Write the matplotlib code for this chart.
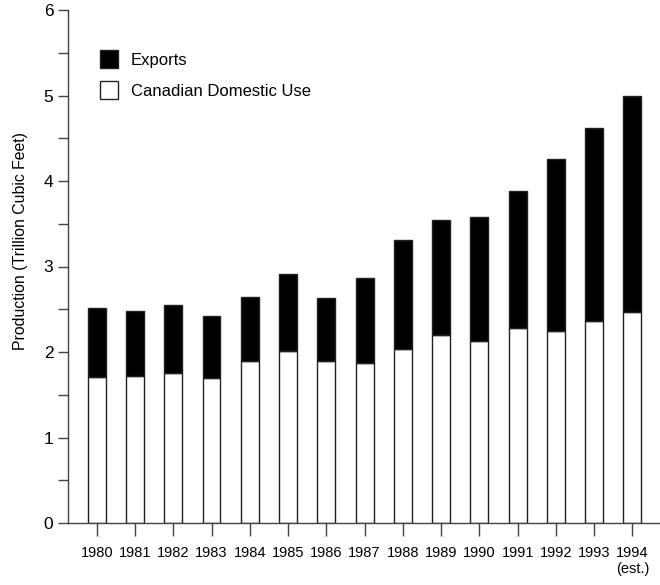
import matplotlib
matplotlib.use("Agg")
import matplotlib.pyplot as plt
from matplotlib.patches import Patch

years = ["1980", "1981", "1982", "1983", "1984", "1985", "1986", "1987",
         "1988", "1989", "1990", "1991", "1992", "1993", "1994\n(est.)"]
domestic = [1.71, 1.72, 1.76, 1.70, 1.89, 2.01, 1.89, 1.875,
            2.03, 2.20, 2.13, 2.28, 2.25, 2.36, 2.47]
total = [2.52, 2.48, 2.55, 2.42, 2.64, 2.91, 2.63, 2.86,
         3.31, 3.54, 3.58, 3.88, 4.26, 4.62, 4.99]
exports = [t - d for t, d in zip(total, domestic)]

plt.rcParams['font.family'] = ['Liberation Sans', 'DejaVu Sans']

fig = plt.figure(figsize=(6.6, 5.85), dpi=100)
ax = fig.add_axes([68/660, 62/585, 592/660, 513/585])

x = list(range(len(years)))
edge = '#222222'
ax.bar(x, domestic, width=0.47, color='white', edgecolor=edge, linewidth=1.0)
ax.bar(x, exports, bottom=domestic, width=0.47, color='black', edgecolor=edge, linewidth=1.0)

ax.set_xlim(-0.75, 14.72)
ax.set_ylim(0, 6)
ax.set_xticks(x)
ax.set_xticklabels(years, fontsize=10.5, linespacing=1.15)
ax.set_yticks([0, 1, 2, 3, 4, 5, 6])
ax.set_yticks([0.5, 1.5, 2.5, 3.5, 4.5, 5.5], minor=True)
ax.tick_params(axis='y', which='both', direction='out', length=7, width=1.0, color='#444444', labelsize=12.5, pad=3.5)
ax.tick_params(axis='x', direction='out', length=9.5, width=1.0, color='#444444', pad=7)

for s in ['top', 'right']:
    ax.spines[s].set_visible(False)
for s in ['left', 'bottom']:
    ax.spines[s].set_color('#444444')
    ax.spines[s].set_linewidth(1.0)

ax.set_ylabel("Production (Trillion Cubic Feet)", fontsize=11.4)
ax.yaxis.set_label_coords(-0.068, 0.549)

handles = [Patch(facecolor='black', edgecolor=edge, label='Exports'),
           Patch(facecolor='white', edgecolor=edge, label='Canadian Domestic Use')]
ax.legend(handles=handles, loc='upper left', bbox_to_anchor=(0.054, 0.922), frameon=False,
          fontsize=12, handlelength=1.08, handleheight=1.32, handletextpad=0.78,
          labelspacing=0.75, borderaxespad=0, borderpad=0)

fig.savefig("out.png", dpi=100)
